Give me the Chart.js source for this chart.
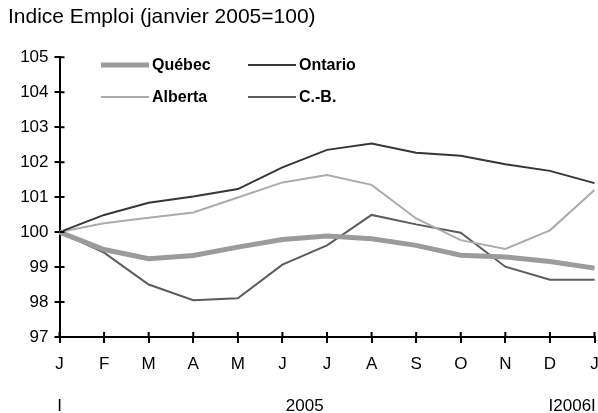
<!DOCTYPE html>
<html>
<head>
<meta charset="utf-8">
<script src="https://cdn.jsdelivr.net/npm/chart.js@4.4.1/dist/chart.umd.min.js"></script>
<style>
html,body{margin:0;padding:0;background:#fff;}
#wrap{width:598px;height:413px;position:relative;}
</style>
</head>
<body>
<div id="wrap"><canvas id="c" width="598" height="413"></canvas></div>
<script>
const months = ['J','F','M','A','M','J','J','A','S','O','N','D','J'];
const yearLabels = ['I','2005','I2006I'];
const yearTickValues = [0, 5.5, 11.5];
const yTicks = [97, 98, 99, 100, 101, 102, 103, 104, 105];

const quebec  = [100, 99.50, 99.24, 99.33, 99.57, 99.79, 99.89, 99.81, 99.62, 99.34, 99.29, 99.16, 98.97];
const ontario = [100, 100.49, 100.84, 101.02, 101.23, 101.85, 102.35, 102.53, 102.27, 102.18, 101.94, 101.75, 101.40];
const alberta = [100, 100.25, 100.41, 100.56, 100.99, 101.42, 101.63, 101.35, 100.39, 99.77, 99.52, 100.05, 101.20];
const cb      = [100, 99.41, 98.50, 98.05, 98.11, 99.07, 99.62, 100.49, 100.22, 99.98, 99.01, 98.64, 98.64];

const FONT = "'Liberation Sans', Arial, sans-serif";

const innerTicks = {
  id: 'innerTicks',
  afterDatasetsDraw(chart) {
    const ctx = chart.ctx, xs = chart.scales.x, ys = chart.scales.y;
    const ca = chart.chartArea;
    ctx.save();
    ctx.strokeStyle = '#000';
    ctx.lineWidth = 2;
    ctx.beginPath();
    for (let i = 0; i < xs.ticks.length; i++) {
      const px = xs.getPixelForTick(i);
      ctx.moveTo(px, ca.bottom);
      ctx.lineTo(px, ca.bottom - 5);
    }
    for (let i = 0; i < ys.ticks.length; i++) {
      const py = ys.getPixelForTick(i);
      ctx.moveTo(ca.left, py);
      ctx.lineTo(ca.left + 5, py);
    }
    ctx.stroke();
    ctx.restore();
  }
};

const inLegend = {
  id: 'inLegend',
  afterDatasetsDraw(chart) {
    const ctx = chart.ctx;
    const items = [
      {ds: 0, x: 101, y: 65},
      {ds: 1, x: 248, y: 65},
      {ds: 2, x: 101, y: 97},
      {ds: 3, x: 248, y: 97}
    ];
    ctx.save();
    ctx.font = "bold 16px " + FONT;
    ctx.textBaseline = 'middle';
    ctx.fillStyle = '#000';
    items.forEach(it => {
      const d = chart.data.datasets[it.ds];
      ctx.strokeStyle = d.borderColor;
      ctx.lineWidth = d.borderWidth;
      ctx.beginPath();
      ctx.moveTo(it.x, it.y);
      ctx.lineTo(it.x + 48, it.y);
      ctx.stroke();
      ctx.fillText(d.label, it.x + 51, it.y + 1);
    });
    ctx.restore();
  }
};

const noSidePad = (axis) => { axis.paddingLeft = 0; axis.paddingRight = 0; };

new Chart(document.getElementById('c'), {
  type: 'line',
  data: {
    labels: months,
    datasets: [
      {label: 'Québec', data: quebec, borderColor: '#9b9b9b', borderWidth: 5},
      {label: 'Ontario', data: ontario, borderColor: '#363636', borderWidth: 2},
      {label: 'Alberta', data: alberta, borderColor: '#ababab', borderWidth: 2},
      {label: 'C.-B.', data: cb, borderColor: '#5c5c5c', borderWidth: 2}
    ]
  },
  options: {
    responsive: false,
    animation: false,
    devicePixelRatio: 1,
    layout: {padding: {left: 8, right: 3.5, top: 0, bottom: 0}},
    elements: {point: {radius: 0, hoverRadius: 0}, line: {tension: 0, fill: false, borderCapStyle: 'butt', borderJoinStyle: 'miter'}},
    plugins: {
      legend: {display: false},
      tooltip: {enabled: false},
      title: {
        display: true,
        text: 'Indice Emploi (janvier 2005=100)',
        align: 'start',
        color: '#000',
        font: {family: FONT, size: 21, weight: 'normal'},
        padding: {top: 5, bottom: 27}
      }
    },
    scales: {
      y: {
        min: 97, max: 105,
        afterBuildTicks: (axis) => { axis.ticks = yTicks.map(v => ({value: v})); },
        afterFit: (axis) => { axis.width = 51.5; },
        grid: {drawOnChartArea: false, drawTicks: true, tickLength: 5, color: '#000', lineWidth: 2},
        border: {display: true, color: '#000', width: 2},
        ticks: {color: '#000', font: {family: FONT, size: 17}, padding: 6}
      },
      x: {
        type: 'category',
        offset: false,
        weight: 0,
        afterFit: (axis) => { axis.height = 48; noSidePad(axis); },
        grid: {drawOnChartArea: false, drawTicks: true, tickLength: 6, color: '#000', lineWidth: 2},
        border: {display: true, color: '#000', width: 2},
        ticks: {color: '#000', font: {family: FONT, size: 17}, padding: 11, autoSkip: false, maxRotation: 0}
      },
      x2: {
        type: 'linear',
        position: 'bottom',
        weight: 1,
        min: 0, max: 12,
        afterBuildTicks: (axis) => { axis.ticks = yearTickValues.map(v => ({value: v})); },
        afterFit: (axis) => { axis.height = 28; noSidePad(axis); },
        grid: {display: false, drawTicks: false},
        border: {display: false},
        ticks: {color: '#000', font: {family: FONT, size: 17}, padding: 11, autoSkip: false, maxRotation: 0,
          callback: (v, i) => yearLabels[i]}
      }
    }
  },
  plugins: [innerTicks, inLegend]
});
</script>
</body>
</html>
